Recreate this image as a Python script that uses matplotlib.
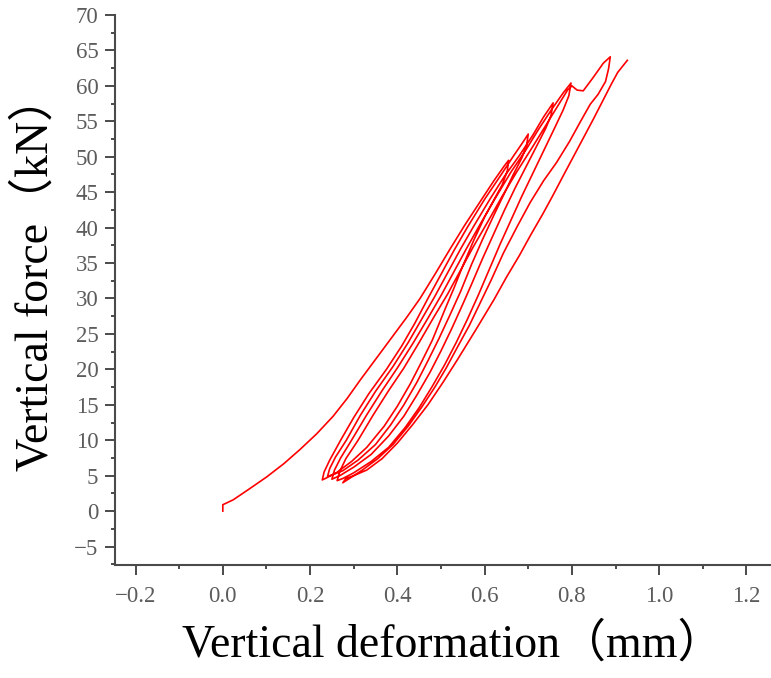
import matplotlib
matplotlib.use("Agg")
import matplotlib.pyplot as plt
from matplotlib.ticker import MultipleLocator, FuncFormatter

# one measured path, split into its loading / unloading branches (x in mm, y in kN)
initial = [(0.000, 0.0), (0.000, 0.9), (0.024, 1.6), (0.060, 3.1), (0.100, 4.8), (0.140, 6.7),
           (0.177, 8.7), (0.215, 10.9), (0.253, 13.4), (0.285, 15.9), (0.315, 18.5), (0.350, 21.4),
           (0.384, 24.2), (0.421, 27.3), (0.452, 30.0), (0.487, 33.5), (0.521, 37.0), (0.555, 40.4),
           (0.590, 43.7), (0.620, 46.5), (0.645, 48.7), (0.655, 49.5)]
unload_1 = [(0.655, 49.5), (0.652, 48.0), (0.640, 46.0), (0.622, 44.0), (0.600, 41.5), (0.575, 38.2),
            (0.550, 34.6), (0.530, 31.5), (0.510, 28.6), (0.480, 24.1), (0.455, 21.0), (0.430, 18.0),
            (0.400, 14.8), (0.370, 12.0), (0.330, 9.0), (0.295, 7.0), (0.260, 5.4), (0.238, 4.7),
            (0.228, 4.4)]
reload_2 = [(0.228, 4.4), (0.232, 5.5), (0.245, 7.2), (0.270, 10.0), (0.300, 13.2), (0.335, 16.6),
            (0.375, 20.0), (0.410, 23.3), (0.440, 26.5), (0.470, 30.0), (0.500, 33.4), (0.530, 36.8),
            (0.560, 40.0), (0.600, 44.0), (0.635, 47.2), (0.665, 50.0), (0.685, 51.8), (0.700, 53.2)]
unload_2 = [(0.700, 53.2), (0.696, 51.5), (0.685, 49.8), (0.665, 47.4), (0.645, 44.8), (0.620, 41.6),
            (0.595, 38.3), (0.570, 34.8), (0.545, 31.0), (0.520, 27.6), (0.495, 24.3), (0.470, 21.2),
            (0.445, 18.2), (0.415, 15.0), (0.385, 12.2), (0.350, 9.4), (0.310, 7.2), (0.275, 5.7),
            (0.250, 5.1), (0.240, 4.9)]
reload_3 = [(0.240, 4.9), (0.245, 6.0), (0.258, 7.6), (0.283, 10.0), (0.315, 13.5), (0.350, 16.9),
            (0.390, 20.4), (0.425, 23.8), (0.455, 27.0), (0.485, 30.2), (0.515, 33.6), (0.545, 37.0),
            (0.575, 40.2), (0.612, 44.0), (0.645, 47.2), (0.680, 50.2), (0.710, 53.0), (0.735, 55.6),
            (0.757, 57.6)]
unload_3 = [(0.757, 57.6), (0.752, 55.8), (0.740, 54.0), (0.720, 51.6), (0.695, 48.6), (0.670, 45.6),
            (0.645, 42.4), (0.620, 39.0), (0.595, 35.6), (0.570, 32.0), (0.550, 29.2), (0.525, 25.8),
            (0.500, 22.6), (0.475, 19.6), (0.445, 16.4), (0.415, 13.4), (0.380, 10.6), (0.340, 8.0),
            (0.300, 6.2), (0.268, 5.0), (0.250, 4.5)]
reload_4 = [(0.250, 4.5), (0.256, 5.8), (0.270, 7.5), (0.295, 10.0), (0.330, 13.6), (0.365, 17.0),
            (0.400, 20.2), (0.437, 23.8), (0.468, 27.0), (0.500, 30.4), (0.530, 33.8), (0.558, 37.0),
            (0.590, 40.5), (0.625, 44.2), (0.660, 47.8), (0.695, 51.0), (0.725, 54.0), (0.755, 56.8),
            (0.780, 59.0), (0.798, 60.4)]
unload_4 = [(0.798, 60.4), (0.793, 58.6), (0.780, 56.6), (0.760, 54.0), (0.735, 50.8), (0.710, 47.6),
            (0.685, 44.4), (0.660, 41.0), (0.635, 37.6), (0.610, 34.0), (0.585, 30.4), (0.560, 27.0),
            (0.535, 23.8), (0.508, 20.6), (0.480, 17.6), (0.450, 14.6), (0.418, 11.8), (0.380, 9.0),
            (0.340, 7.0), (0.300, 5.4), (0.275, 4.6), (0.262, 4.3)]
reload_5 = [(0.262, 4.3), (0.268, 5.6), (0.282, 7.4), (0.310, 10.0), (0.345, 13.6), (0.380, 17.0),
            (0.415, 20.2), (0.450, 23.8), (0.482, 27.2), (0.515, 30.6), (0.545, 34.0), (0.575, 37.4),
            (0.607, 40.8), (0.640, 44.4), (0.675, 48.0), (0.710, 51.4), (0.740, 54.4), (0.768, 57.2),
            (0.790, 59.4), (0.800, 60.0), (0.812, 59.4), (0.826, 59.3), (0.849, 61.2), (0.872, 63.2),
            (0.888, 64.1)]
unload_5 = [(0.888, 64.1), (0.884, 62.4), (0.877, 60.6), (0.860, 58.8), (0.842, 57.4), (0.820, 55.0),
            (0.795, 52.2), (0.765, 49.2), (0.735, 46.6), (0.704, 43.5), (0.675, 40.2), (0.643, 36.4),
            (0.615, 32.6), (0.590, 29.4), (0.565, 26.2), (0.540, 23.4), (0.512, 20.2), (0.485, 17.4),
            (0.455, 14.6), (0.425, 12.0), (0.390, 9.4), (0.355, 7.4), (0.320, 5.8), (0.290, 4.6),
            (0.275, 4.0)]
reload_6 = [(0.275, 4.0), (0.282, 4.6), (0.300, 5.0), (0.330, 5.8), (0.365, 7.4), (0.400, 9.6),
            (0.435, 12.2), (0.470, 15.0), (0.505, 18.2), (0.537, 21.3), (0.580, 25.6), (0.622, 29.9),
            (0.650, 33.0), (0.680, 36.1), (0.705, 38.9), (0.734, 42.0), (0.757, 44.6), (0.780, 47.3),
            (0.800, 49.6), (0.825, 52.5), (0.850, 55.4), (0.875, 58.4), (0.890, 60.2), (0.905, 61.9),
            (0.927, 63.6)]

branches = [initial, unload_1, reload_2, unload_2, reload_3, unload_3,
            reload_4, unload_4, reload_5, unload_5, reload_6]

xs, ys = [], []
for b in branches:
    for x, y in b:
        xs.append(x)
        ys.append(y)

LABEL_FONT = ["Liberation Serif", "Noto Sans CJK SC"]
AXIS_GREY = "#4a4a4a"
TICK_GREY = "#5c5c5c"

fig = plt.figure(figsize=(7.71, 6.78), dpi=100)
ax = fig.add_axes([0.1492, 0.1667, 0.8495, 0.8112])

ax.plot(xs, ys, color="#ff0000", lw=1.2)

ax.set_xlim(-0.247, 1.254)
ax.set_ylim(-7.6, 70)
ax.xaxis.set_major_locator(MultipleLocator(0.2))
ax.xaxis.set_minor_locator(MultipleLocator(0.1))
ax.yaxis.set_major_locator(MultipleLocator(5))
ax.yaxis.set_minor_locator(MultipleLocator(2.5))
ax.xaxis.set_major_formatter(FuncFormatter(lambda v, p: f"{v:.1f}".replace("-", "\u2212")))
ax.yaxis.set_major_formatter(FuncFormatter(lambda v, p: f"{v:.0f}".replace("-", "\u2212")))

for s in ["top", "right"]:
    ax.spines[s].set_visible(False)
for s in ["left", "bottom"]:
    ax.spines[s].set_color(AXIS_GREY)
    ax.spines[s].set_linewidth(1.5)

ax.tick_params(which="major", length=7, width=1.4, color=AXIS_GREY, labelcolor=TICK_GREY,
               labelsize=16.5, direction="out")
ax.tick_params(which="minor", length=3, width=1.4, color=AXIS_GREY, direction="out")
ax.tick_params(axis="y", which="major", pad=5)
ax.tick_params(axis="x", which="major", pad=8)
for lab in ax.get_xticklabels() + ax.get_yticklabels():
    lab.set_fontfamily("Liberation Serif")

ax.set_xlabel("Vertical deformation（mm）", fontsize=33, family=LABEL_FONT, color="black")
ax.set_ylabel("Vertical force（kN）", fontsize=33, family=LABEL_FONT, color="black")
ax.xaxis.set_label_coords(0.515, -0.105)
ax.yaxis.set_label_coords(-0.088, 0.53)

fig.savefig("out.png", dpi=100)
